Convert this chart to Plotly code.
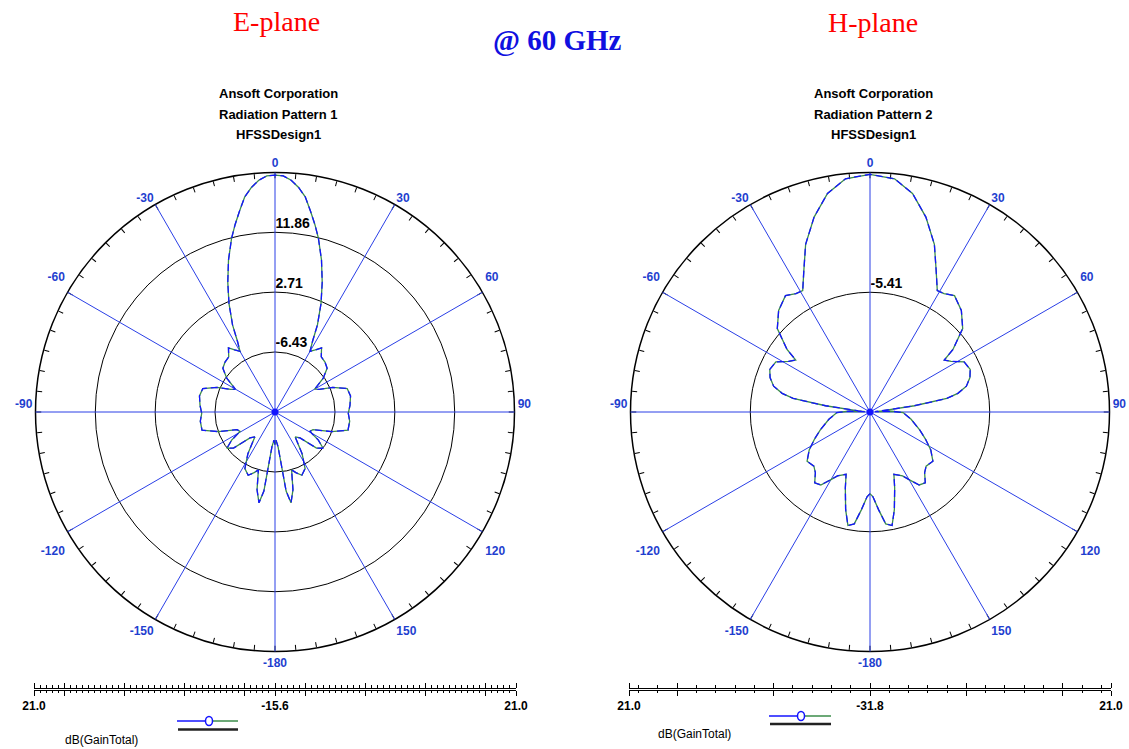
import numpy as np
import plotly.graph_objects as go

# ---------------- data ----------------
# E-plane: angle (deg, 0..180) and dB(GainTotal); pattern mirrored for negative angles
e_theta = [0, 2, 4, 6, 8, 10, 12, 14, 17, 20, 23, 26, 28, 30, 33, 36, 40, 45, 50, 55,
           60, 63, 67, 72, 78, 85, 91, 97, 104, 109, 115, 119, 123, 127, 131, 136, 141, 147, 152, 157,
           161, 164, 167, 170, 172, 175, 178, 180]
e_gain = [20.6, 20.5, 19.9, 18.9, 17.6, 15.6, 13.7, 11.8, 8.7, 5.5, 2.4, -0.8, -3.4, -4.9, -4.3, -3.5, -4.6, -4.8, -5.2, -6.6,
          -8.6, -8.0, -6.0, -4.0, -3.8, -4.1, -4.4, -4.1, -4.1, -6.4, -9.2, -9.5, -7.7, -6.4, -7.2, -10.1, -10.7, -8.0, -5.8, -5.1,
          -5.8, -6.4, -3.4, -1.5, -3.4, -10.3, -11.3, -10.6]

# H-plane
h_theta = [0, 6, 11, 16, 21, 25, 29, 32, 36, 42, 48, 53, 55, 58, 62, 67, 71, 75, 78, 80,
           82, 84, 86, 88, 91, 100, 110, 116, 122, 128, 134, 138, 142, 146, 150, 153, 159, 162, 166, 169,
           172, 175, 178, 180]
h_gain = [20.6, 19.9, 17.3, 12.9, 7.8, 2.7, -1.2, -1.0, -0.1, -1.7, -4.3, -8.9, -11.8, -10.7, -8.3, -7.8, -8.5, -9.8, -12.0, -14.6,
          -21.9, -29.2, -30.7, -27.0, -24.5, -22.6, -20.1, -18.2, -16.0, -14.2, -14.6, -13.8, -12.0, -12.4, -14.6, -16.0, -17.1, -14.2, -9.6, -6.3,
          -6.9, -10.2, -13.1, -13.8]

e_range = [-15.6, 21.0]
e_grid_vals = [-6.43, 2.71, 11.86]
e_grid_text = ["-6.43", "2.71", "11.86"]
h_range = [-31.8, 21.0]
h_grid_vals = [-5.41]
h_grid_text = ["-5.41"]

angle_labels = {0: "0", 30: "30", 60: "60", 90: "90", 120: "120", 150: "150",
                180: "-180", 210: "-150", 240: "-120", 270: "-90", 300: "-60", 330: "-30"}

# scale bars under each plot (distance from centre in dB)
e_bar_major = [-36.6, -32.025, -22.875, -13.725, -4.575, 0, 4.575, 13.725, 22.875, 32.025, 36.6]
e_bar_minor_step = 0.915
h_bar_major = [-52.8, -42.24, -21.12, 0, 21.12, 42.24, 52.8]
h_bar_minor_step = 4.224

# ---------------- styling ----------------
W, H = 1129, 749
SANS = "Liberation Sans, Arial, sans-serif"
SERIF = "Liberation Serif, Times New Roman, serif"
LABEL_BLUE = "#1f3fcf"
SPOKE_BLUE = "#2a3fe6"
CURVE_BLUE = "#1414ff"
CURVE_GREEN = "#3b8c4a"


def px(x):
    return x / W


def py(y):
    return 1 - y / H


def mirror(theta, vals):
    t = [-a for a in reversed(theta)] + list(theta[1:])
    v = list(reversed(vals)) + list(vals[1:])
    return t, v


def ang_text(a):
    s = angle_labels.get(a, "")
    if not s:
        return ""
    if a in (60, 90, 270, 300):
        return s + "<br>&nbsp;"      # sit slightly higher, like the original
    if a in (120, 240):
        return "&nbsp;<br>" + s      # sit slightly lower
    return s


tick5 = list(range(0, 360, 5))
tick5_text = [ang_text(a) for a in tick5]

R = 239.5
cy = 412
domy = [py(cy + R), py(cy - R)]
left_cx, right_cx = 275, 870


def base_polar(cx, rng, gv, gt):
    return dict(
        domain=dict(x=[px(cx - R), px(cx + R)], y=domy),
        bgcolor="white",
        angularaxis=dict(rotation=90, direction="clockwise", tickmode="array",
                         tickvals=tick5, ticktext=tick5_text, ticks="inside", ticklen=5,
                         tickcolor="black", tickwidth=1, showline=True, linecolor="black",
                         linewidth=1.5, showgrid=False,
                         tickfont=dict(family=SANS, size=12, color=LABEL_BLUE, weight="bold")),
        radialaxis=dict(range=rng, tickmode="array", tickvals=gv,
                        ticktext=[t + "<br>&nbsp;" for t in gt],
                        showgrid=True, gridcolor="black", gridwidth=1.4, showline=False,
                        ticks="", angle=90, side="clockwise", tickangle=90,
                        tickfont=dict(family=SANS, size=14, color="black", weight="bold")),
    )


def over_polar(cx, rng):
    return dict(
        domain=dict(x=[px(cx - R), px(cx + R)], y=domy),
        bgcolor="rgba(0,0,0,0)",
        angularaxis=dict(rotation=90, direction="clockwise", tickmode="linear", tick0=0, dtick=30,
                         showgrid=True, gridcolor=SPOKE_BLUE, gridwidth=1.2,
                         showticklabels=False, ticks="", showline=False),
        radialaxis=dict(range=rng, visible=False),
    )


fig = go.Figure()

# invisible anchors so the base polar frames get drawn
for sub, rng in [("polar", e_range), ("polar3", h_range)]:
    fig.add_trace(go.Scatterpolar(r=[rng[0]], theta=[0], mode="markers", subplot=sub,
                                  marker=dict(opacity=0), showlegend=False, hoverinfo="skip"))

for sub, theta, gain, rng in [("polar2", e_theta, e_gain, e_range), ("polar4", h_theta, h_gain, h_range)]:
    t, v = mirror(theta, gain)
    fig.add_trace(go.Scatterpolar(r=v, theta=t, mode="lines", subplot=sub,
                                  line=dict(color=CURVE_GREEN, width=1.3), showlegend=False,
                                  name="dB(GainTotal)"))
    fig.add_trace(go.Scatterpolar(r=v, theta=t, mode="lines", subplot=sub,
                                  line=dict(color=CURVE_BLUE, width=1.3, dash="7px,4px"),
                                  showlegend=False, name="dB(GainTotal)"))
    fig.add_trace(go.Scatterpolar(r=[rng[0]], theta=[0], mode="markers", subplot=sub,
                                  marker=dict(color=CURVE_BLUE, size=7), showlegend=False))

# scale bars (cartesian axes)
for xa, ya, cx, half, major, step, lab in [
    ("xaxis", "yaxis", left_cx, 36.6, e_bar_major, e_bar_minor_step, "-15.6"),
    ("xaxis2", "yaxis2", right_cx, 52.8, h_bar_major, h_bar_minor_step, "-31.8"),
]:
    texts = ["" for _ in major]
    texts[0] = "21.0"
    texts[-1] = "21.0"
    texts[len(major) // 2] = lab
    yname = "y" if ya == "yaxis" else "y2"
    fig.add_trace(go.Scatter(x=[0], y=[0], mode="markers", marker=dict(opacity=0),
                             xaxis="x" if xa == "xaxis" else "x2", yaxis=yname,
                             showlegend=False, hoverinfo="skip"))
    fig.update_layout(**{
        xa: dict(domain=[px(cx - 241), px(cx + 241)], range=[-half, half], anchor=yname,
                 tickmode="array", tickvals=major, ticktext=texts, ticks="outside", ticklen=5,
                 tickwidth=1, tickcolor="black", showline=True, linecolor="black", linewidth=1,
                 mirror="ticks", showgrid=False, zeroline=False,
                 minor=dict(tickmode="linear", tick0=0, dtick=step, ticks="outside", ticklen=2.5,
                            tickcolor="black", tickwidth=1, showgrid=False),
                 tickfont=dict(family=SANS, size=12, color="black", weight="bold")),
        ya: dict(domain=[py(689.5), py(688.5)], visible=False, range=[-1, 1], fixedrange=True),
    })

fig.update_layout(
    width=W, height=H, margin=dict(l=0, r=0, t=0, b=0),
    paper_bgcolor="white", plot_bgcolor="rgba(0,0,0,0)", template="none",
    polar=base_polar(left_cx, e_range, e_grid_vals, e_grid_text),
    polar2=over_polar(left_cx, e_range),
    polar3=base_polar(right_cx, h_range, h_grid_vals, h_grid_text),
    polar4=over_polar(right_cx, h_range),
)

ann = []
ann.append(dict(text="E-plane", x=px(276), y=py(21), font=dict(family=SERIF, size=28, color="red")))
ann.append(dict(text="H-plane", x=px(873), y=py(22), font=dict(family=SERIF, size=28, color="red")))
ann.append(dict(text="<b>@ 60 GHz</b>", x=px(557), y=py(40), font=dict(family=SERIF, size=29, color="#1010e0")))
for cx, n in [(278, 1), (873, 2)]:
    for i, line in enumerate(["Ansoft Corporation", f"Radiation Pattern {n}", "HFSSDesign1"]):
        ann.append(dict(text=f"<b>{line}</b>", x=px(cx), y=py(93 + 21 * i),
                        font=dict(family=SANS, size=13, color="black")))
ann.append(dict(text="dB(GainTotal)", x=px(102), y=py(740), font=dict(family=SANS, size=12, color="black")))
ann.append(dict(text="dB(GainTotal)", x=px(695), y=py(734), font=dict(family=SANS, size=12, color="black")))
for a in ann:
    a.update(xref="paper", yref="paper", showarrow=False, xanchor="center", yanchor="middle")
fig.update_layout(annotations=ann)

# legend sample graphics
shapes = []
for x0, x1, xc, x2, yl, yb in [(177, 205, 209, 238, 721, 729.5), (769, 797, 801, 831, 716, 724)]:
    shapes.append(dict(type="line", x0=px(x0), x1=px(xc - 3.5), y0=py(yl), y1=py(yl), line=dict(color=CURVE_BLUE, width=1.5)))
    shapes.append(dict(type="line", x0=px(xc + 3.5), x1=px(x2), y0=py(yl), y1=py(yl), line=dict(color=CURVE_GREEN, width=1.5)))
    shapes.append(dict(type="circle", x0=px(xc - 3.5), x1=px(xc + 3.5), y0=py(yl + 4.5), y1=py(yl - 4.5),
                       line=dict(color=CURVE_BLUE, width=1.5), fillcolor="white"))
    shapes.append(dict(type="line", x0=px(x0 + 1), x1=px(x2), y0=py(yb), y1=py(yb), line=dict(color="#222222", width=2.5)))
for s in shapes:
    s.update(xref="paper", yref="paper")
fig.update_layout(shapes=shapes)

fig.write_html("out.html", config={"displayModeBar": False},
               post_script="document.body.style.margin='0';")
